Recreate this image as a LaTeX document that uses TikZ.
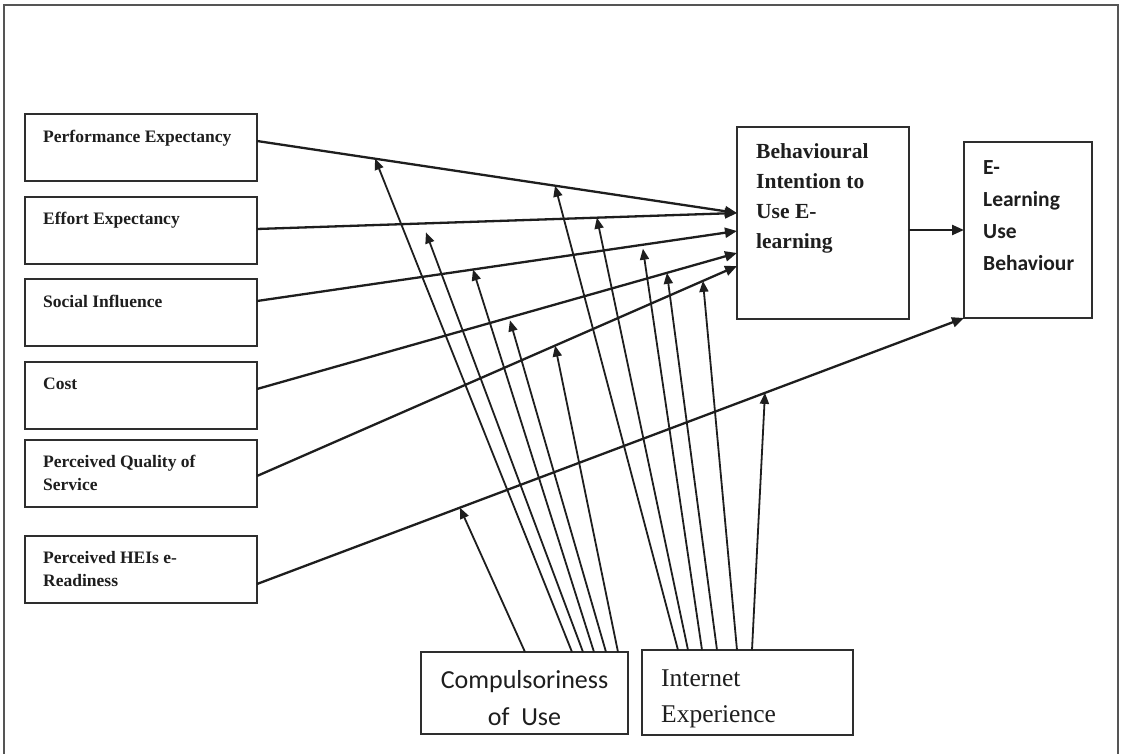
\documentclass[tikz,border=0pt]{standalone}
\usepackage{fontspec}
\setmainfont{Liberation Serif}
\newfontfamily\calfont{Carlito}
\usetikzlibrary{arrows.meta,calc}
\definecolor{inkc}{HTML}{1E1E1E}
\definecolor{boxc}{HTML}{2E2E2E}
\definecolor{framec}{HTML}{555555}
\begin{document}
\begin{tikzpicture}[x=1pt,y=-1pt,
  box/.style={draw=boxc, line width=1.6pt, inner sep=0pt, outer sep=0pt, anchor=north west},
  lbl/.style={anchor=base west, align=left, inner sep=0pt, text=inkc},
  leftfont/.style={font=\bfseries\fontsize{17.5}{23}\selectfont},
  conn/.style={draw=inkc, line width=2.3pt, -{Triangle[length=12pt,width=10pt]}},
  modarrow/.style={draw=inkc, line width=1.8pt, -{Triangle[length=11pt,width=9pt]}}]
\useasboundingbox (0,0) rectangle (1122,754);
\fill[white] (0,0) rectangle (1122,754);
\draw[framec, line width=1.5pt] (4,754) -- (4,5) -- (1118,5) -- (1118,754);

% left boxes
\node[box, minimum width=232pt, minimum height=67pt,
  label={[lbl,leftfont,xshift=18pt,yshift=-29pt]north west:Performance Expectancy}] (pe) at (25,114) {};
\node[box, minimum width=232pt, minimum height=67pt,
  label={[lbl,leftfont,xshift=18pt,yshift=-28pt]north west:Effort Expectancy}] (ee) at (25,197) {};
\node[box, minimum width=232pt, minimum height=67pt,
  label={[lbl,leftfont,xshift=18pt,yshift=-28pt]north west:Social Influence}] (si) at (25,279) {};
\node[box, minimum width=232pt, minimum height=67pt,
  label={[lbl,leftfont,xshift=18pt,yshift=-27pt]north west:Cost}] (co) at (25,362) {};
\node[box, minimum width=232pt, minimum height=67pt,
  label={[lbl,leftfont,xshift=18pt,yshift=-50pt]north west:Perceived Quality of\\Service}] (pq) at (25,440) {};
\node[box, minimum width=232pt, minimum height=67pt,
  label={[lbl,leftfont,xshift=18pt,yshift=-50pt]north west:Perceived HEIs e-\\Readiness}] (he) at (25,536) {};

% right boxes
\node[box, minimum width=172pt, minimum height=192pt,
  label={[lbl,font=\bfseries\fontsize{21.5}{30}\selectfont,xshift=19pt,yshift=-122pt]north west:Behavioural\\Intention to\\Use E-\\learning}] (bi) at (737,127) {};
\node[box, minimum width=128pt, minimum height=176pt,
  label={[lbl,font=\calfont\bfseries\fontsize{21.5}{32}\selectfont,xshift=19pt,yshift=-128pt]north west:E-\\Learning\\Use\\Behaviour}] (el) at (964,142) {};

% bottom boxes
\node[box, minimum width=207pt, minimum height=82pt,
  label={[anchor=base, align=center, inner sep=0pt, text=inkc, font=\calfont\fontsize{26}{37.5}\selectfont, yshift=-73.5pt]north:Compulsoriness\\of~~Use}] (cu) at (421,652) {};
\node[box, minimum width=211pt, minimum height=85pt,
  label={[lbl,font=\fontsize{25.5}{36}\selectfont,xshift=19pt,yshift=-72pt]north west:Internet\\Experience}] (ie) at (642,650) {};

% main connectors
\draw[conn] ([yshift=6.5pt]pe.east) -- coordinate[pos=0.246] (tA) coordinate[pos=0.621] (tB) ([yshift=10pt]bi.west);
\draw[conn] ([yshift=1.5pt]ee.east) -- coordinate[pos=0.352] (tC) coordinate[pos=0.708] (tD) ([yshift=10pt]bi.west);
\draw[conn] ([yshift=11.5pt]si.east) -- coordinate[pos=0.45] (tE) coordinate[pos=0.804] (tF) ([yshift=-8pt]bi.west);
\draw[conn] ([yshift=6.5pt]co.east) -- coordinate[pos=0.854] (tG) coordinate[pos=0.527] (tI) ([yshift=-30pt]bi.west);
\draw[conn] ([yshift=-2.5pt]pq.east) -- coordinate[pos=0.929] (tH) coordinate[pos=0.621] (tJ) ([yshift=-43pt]bi.west);
\draw[conn] ([yshift=-14.5pt]he.east) -- coordinate[pos=0.7185] (tK) coordinate[pos=0.287] (tL) (el.south west);
\draw[conn] ([yshift=-7pt]bi.east) coordinate (bo) -- (bo -| el.west);

% moderating arrows from Compulsoriness of Use
\draw[modarrow] ([xshift=104pt]cu.north west) -- (tL);
\draw[modarrow] ([xshift=151pt]cu.north west) -- (tA);
\draw[modarrow] ([xshift=162pt]cu.north west) -- ([yshift=-9pt]tC);
\draw[modarrow] ([xshift=173pt]cu.north west) -- (tE);
\draw[modarrow] ([xshift=185pt]cu.north west) -- ([yshift=-3pt]tI);
\draw[modarrow] ([xshift=197pt]cu.north west) -- (tJ);

% moderating arrows from Internet Experience
\draw[modarrow] ([xshift=36pt]ie.north west) -- (tB);
\draw[modarrow] ([xshift=46pt]ie.north west) -- (tD);
\draw[modarrow] ([xshift=60pt]ie.north west) -- ([yshift=-4pt]tF);
\draw[modarrow] ([xshift=75pt]ie.north west) -- (tG);
\draw[modarrow] ([xshift=95pt]ie.north west) -- (tH);
\draw[modarrow] ([xshift=110pt]ie.north west) -- (tK);
\end{tikzpicture}
\end{document}
